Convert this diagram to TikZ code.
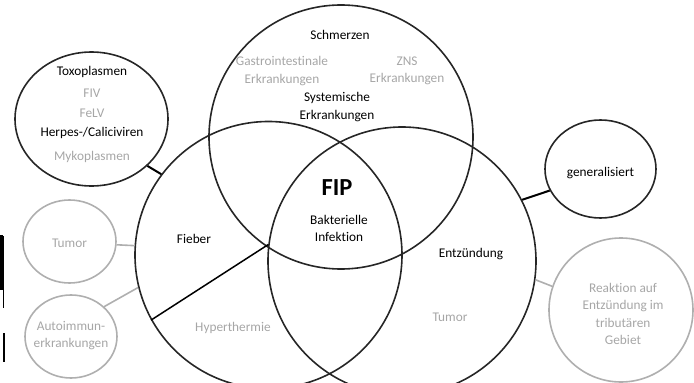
\documentclass[tikz,border=0pt]{standalone}
\usepackage{fontspec}
\setmainfont{Carlito}[Ligatures=NoCommon]
\usepackage{xcolor}
\usepackage{tikz}
\usetikzlibrary{shapes.geometric}
\definecolor{ringblack}{HTML}{262626}
\definecolor{ringgray}{HTML}{AFAFAF}
\definecolor{txtgray}{HTML}{A6A6A6}
\tikzstyle{ring} = [circle, draw=ringblack, line width=1.6pt, inner sep=0pt]
\tikzstyle{oval} = [ellipse, draw=ringblack, line width=1.6pt, inner sep=0pt]
\tikzstyle{grayoval} = [ellipse, draw=ringgray, line width=1.6pt, inner sep=0pt]
\tikzstyle{lbl} = [font=\fontsize{13.3}{17.5}\selectfont, align=center, inner sep=0pt]
\tikzstyle{graylbl} = [lbl, text=txtgray]
\tikzstyle{link} = [draw=black, line width=2pt]
\tikzstyle{graylink} = [draw=ringgray, line width=1.6pt]

\begin{document}
\begin{tikzpicture}[x=1pt, y=-1pt]
    \useasboundingbox (0, 0) rectangle (694, 383);

    % the three big circles
    \node[ring, minimum size=264pt] at (341, 137) (schm) {};
    \node[ring, minimum size=267pt] at (268.5, 255) (fieber) {};
    \node[ring, minimum size=268pt] at (402, 261) (entz) {};

    % outer circles
    \node[oval, minimum width=153pt, minimum height=134pt] at (91.5, 119) (toxo) {};
    \node[oval, minimum width=111pt, minimum height=98pt] at (600.5, 169) (gen) {};
    \node[grayoval, minimum width=93pt, minimum height=83pt] at (69.5, 241.5) (tumorl) {};
    \node[grayoval, minimum width=92pt, minimum height=83pt] at (71, 336.5) (autoimm) {};
    \node[grayoval, minimum width=144pt, minimum height=144pt] at (621, 310) (reakt) {};

    % links
    \path[link] (toxo.-40) -- (fieber.143);
    \path[link] (gen.203) -- (entz.27);
    \path[link, line width=1.5pt] (fieber.209) -- (entz.173);
    \path[graylink] (tumorl.-4) -- (fieber.176);
    \path[graylink] (autoimm.42) -- (fieber.194);
    \path[graylink] (reakt.161) -- (entz.-8);

    % cut marks on the left border
    \fill[black] (0, 235) rectangle (2.5, 290);
    \draw[black, line width=1.2pt] (3.5, 236) -- (3.5, 308);
    \draw[black, line width=1.5pt] (4, 333) -- (4, 362);

    % texts
    \node[lbl] at (340, 35) (t-schm) {Schmerzen};
    \node[graylbl] at (282, 71) (t-gastro) {Gastrointestinale\\Erkrankungen};
    \node[graylbl] at (407, 71) (t-zns) {ZNS\\Erkrankungen};
    \node[lbl] at (337, 107) (t-syst) {Systemische\\Erkrankungen};
    \node[lbl, font=\fontsize{24.5}{28}\selectfont\bfseries] at (337, 188) (t-fip) {FIP};
    \node[lbl] at (339, 228.5) (t-bakt) {Bakterielle\\Infektion};
    \node[lbl] at (194, 239) (t-fieber) {Fieber};
    \node[graylbl] at (233, 328) (t-hyper) {Hyperthermie};
    \node[lbl] at (471, 254) (t-entz) {Entzündung};
    \node[graylbl] at (450, 317) (t-tumorr) {Tumor};
    \node[lbl] at (92, 72) (t-toxo) {Toxoplasmen};
    \node[graylbl] at (92, 93) (t-fiv) {FIV};
    \node[graylbl] at (92, 113) (t-felv) {FeLV};
    \node[lbl] at (92, 133) (t-herpes) {Herpes-/Caliciviren};
    \node[graylbl] at (92, 157) (t-myko) {Mykoplasmen};
    \node[lbl] at (600.5, 173) (t-gen) {generalisiert};
    \node[graylbl] at (69.5, 243) (t-tumorl) {Tumor};
    \node[graylbl] at (71, 335.5) (t-autoimm) {Autoimmun-\\erkrankungen};
    \node[graylbl] at (623, 314) (t-reakt) {Reaktion auf\\Entzündung im\\tributären\\Gebiet};
\end{tikzpicture}
\end{document}
